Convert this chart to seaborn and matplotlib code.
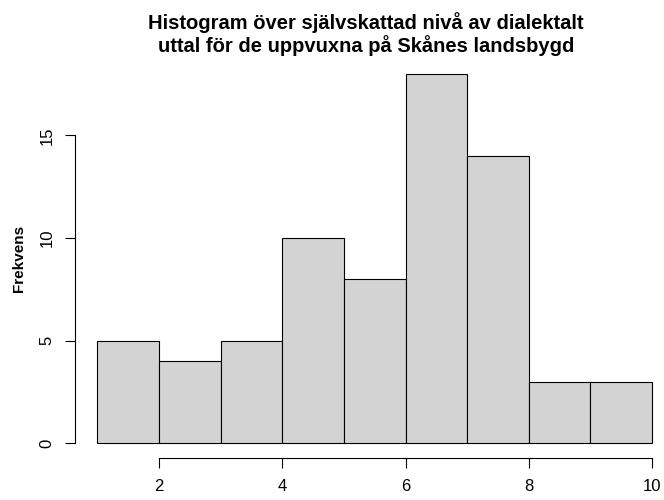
import matplotlib
matplotlib.use("Agg")
import matplotlib.pyplot as plt
import seaborn as sns
import numpy as np

# Self-rated dialect level (1-10) and frequency per unit-wide bin
bin_edges = [1, 2, 3, 4, 5, 6, 7, 8, 9, 10]
counts = [5, 4, 5, 10, 8, 18, 14, 3, 3]
x_ticks = [2, 4, 6, 8, 10]
y_ticks = [0, 5, 10, 15]

title = "Histogram över självskattad nivå av dialektalt\nuttal för de uppvuxna på Skånes landsbygd"
ylabel = "Frekvens"

sns.set_style("white")
plt.rcParams["font.family"] = ["Liberation Sans", "DejaVu Sans"]
plt.rcParams["text.color"] = "black"
plt.rcParams["axes.labelcolor"] = "black"
plt.rcParams["xtick.color"] = "black"
plt.rcParams["ytick.color"] = "black"

W, H = 664, 500
fig = plt.figure(figsize=(W / 100, H / 100), dpi=100)
# plot region in pixels: left 75, right 664, top 59, bottom 458
left, right, top, bottom = 75.3, 664, 59.2, 457.8
ax = fig.add_axes([left / W, 1 - bottom / H, (right - left) / W, (bottom - top) / H])

centers = [(a + b) / 2 for a, b in zip(bin_edges[:-1], bin_edges[1:])]
sns.histplot(x=centers, weights=counts, bins=bin_edges, ax=ax,
             color="#D3D3D3", edgecolor="black", linewidth=0.8, alpha=1)

ax.set_xlim(0.64, 10.195)
ax.set_ylim(-0.72, 18.72)

for s in ["top", "right"]:
    ax.spines[s].set_visible(False)
ax.spines["left"].set_bounds(0, 15)
ax.spines["bottom"].set_bounds(2, 10)
for s in ["left", "bottom"]:
    ax.spines[s].set_linewidth(0.8)
    ax.spines[s].set_color("black")

ax.set_xticks(x_ticks)
ax.set_yticks(y_ticks)
ax.set_xticklabels([str(t) for t in x_ticks])
ax.set_yticklabels([str(t) for t in y_ticks], rotation=90, va="center")
ax.tick_params(axis="both", direction="out", length=7, width=0.8, color="black",
               labelcolor="black", labelsize=12, pad=8, left=True, bottom=True)
ax.set_xlabel("")
ax.set_ylabel(ylabel, fontsize=11, fontweight="bold", labelpad=10, color="black")

fig.text(366 / W, 1 - 34 / H, title, ha="center", va="center",
         fontsize=14.5, fontweight="bold", linespacing=1.15, color="black")

fig.savefig("out.png", dpi=100)
